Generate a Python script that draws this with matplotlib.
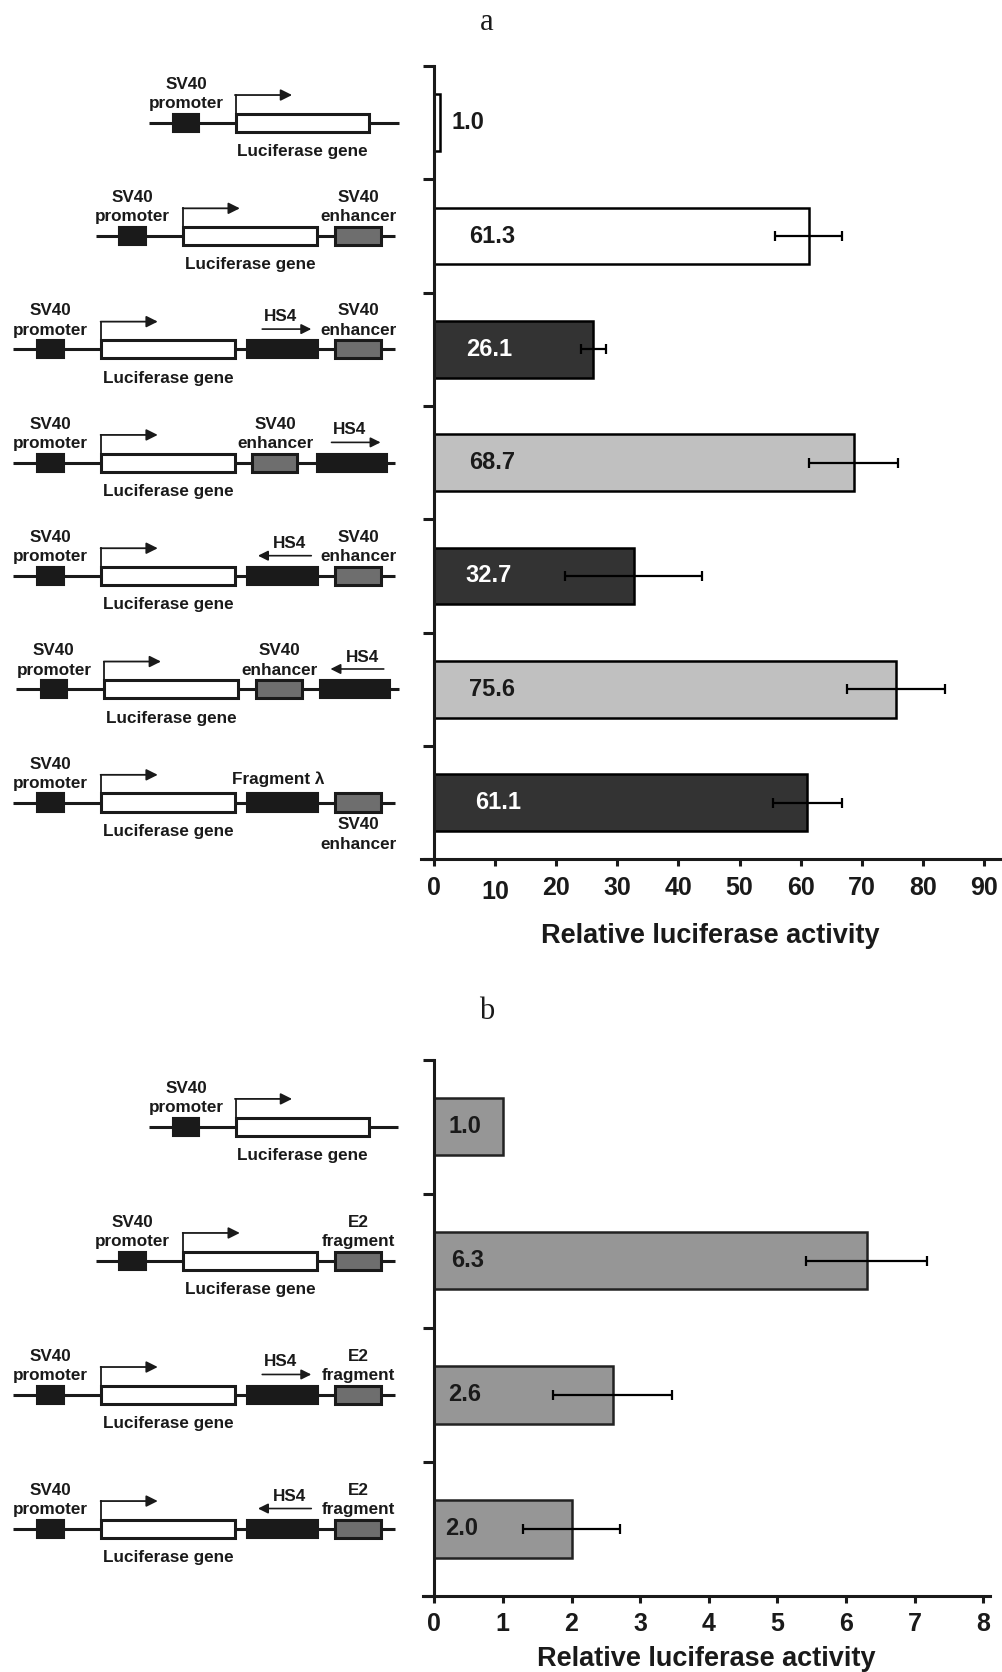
import numpy as np
import matplotlib
matplotlib.use('Agg')
import matplotlib.pyplot as plt
from matplotlib.patches import Rectangle
from matplotlib import font_manager

# data
values_a = [1.0, 61.3, 26.1, 68.7, 32.7, 75.6, 61.1]
errors_a = [0, 5.5, 2.1, 7.3, 11.2, 8.0, 5.7]
colors_a = ['white', 'white', '#333333', '#c0c0c0', '#333333', '#c0c0c0', '#333333']
textcol_a = ['#1a1a1a', '#1a1a1a', 'white', '#1a1a1a', 'white', '#1a1a1a', 'white']
ticks_a = list(range(0, 91, 10))

values_b = [1.0, 6.3, 2.6, 2.0]
errors_b = [0, 0.88, 0.87, 0.7]
ticks_b = list(range(0, 9))

xlabel = 'Relative luciferase activity'

# construct drawings (x in px of the left panel, 0..394)
rows_a = [
    dict(line=(140, 374), prom=162, luc=221, parts=[]),
    dict(line=(90, 371), prom=112, luc=172, parts=[('enh', 314, 'SV40', 'enhancer', 'up')]),
    dict(line=(12, 371), prom=35, luc=95, parts=[('hs4', 232, 1), ('enh', 314, 'SV40', 'enhancer', 'up')]),
    dict(line=(12, 371), prom=35, luc=95, parts=[('enh', 236, 'SV40', 'enhancer', 'up'), ('hs4', 297, 1)]),
    dict(line=(12, 371), prom=35, luc=95, parts=[('hs4', 232, -1), ('enh', 314, 'SV40', 'enhancer', 'up')]),
    dict(line=(15, 374), prom=38, luc=98, parts=[('enh', 240, 'SV40', 'enhancer', 'up'), ('hs4', 300, -1)]),
    dict(line=(12, 371), prom=35, luc=95, parts=[('frag', 232), ('enh', 314, 'SV40', 'enhancer', 'down')]),
]
rows_b = [
    dict(line=(140, 373), prom=162, luc=221, parts=[]),
    dict(line=(90, 371), prom=112, luc=172, parts=[('enh', 314, 'E2', 'fragment', 'up')]),
    dict(line=(12, 371), prom=35, luc=95, parts=[('hs4', 232, 1), ('enh', 314, 'E2', 'fragment', 'up')]),
    dict(line=(12, 371), prom=35, luc=95, parts=[('hs4', 232, -1), ('enh', 314, 'E2', 'fragment', 'up')]),
]

names = {f.name for f in font_manager.fontManager.ttflist}
narrow = 'Liberation Sans Narrow' if 'Liberation Sans Narrow' in names else 'Liberation Sans'
plt.rcParams['font.family'] = ['Liberation Sans', 'DejaVu Sans']
plt.rcParams['font.weight'] = 'bold'

W, H = 1003, 1672
fig = plt.figure(figsize=(W / 100, H / 100), dpi=100)
K = 1.066  # shown px -> full px

DARK = '#1a1a1a'
LBL = 12.3


def draw_row(ax, y, s, spec):
    t = lambda dy: y + dy * s  # pixel offset -> category units
    bh = 17 * s
    x0, x1 = spec['line']
    ax.plot([x0, x1], [y, y], color=DARK, lw=2.2, zorder=1, solid_capstyle='butt')
    # promoter
    p = spec['prom']
    ax.add_patch(Rectangle((p, y - bh / 2), 25, bh, facecolor=DARK, edgecolor=DARK, lw=1.5, zorder=2))
    ax.text(p + 12.5, t(-36), 'SV40', ha='center', va='center', fontsize=LBL, color=DARK)
    ax.text(p + 12.5, t(-18), 'promoter', ha='center', va='center', fontsize=LBL, color=DARK)
    # luciferase gene
    l = spec['luc']
    ax.add_patch(Rectangle((l, y - bh / 2), 125, bh, facecolor='white', edgecolor=DARK, lw=2.2, zorder=2))
    ax.plot([l, l], [y - bh / 2, t(-26)], color=DARK, lw=1.3, zorder=2)
    ax.annotate('', xy=(l + 53, t(-26)), xytext=(l - 0.6, t(-26)),
                arrowprops=dict(arrowstyle='-|>', color=DARK, lw=1.3, mutation_scale=17,
                                shrinkA=0, shrinkB=0))
    ax.text(l + 63, t(27), 'Luciferase gene', ha='center', va='center', fontsize=LBL, color=DARK)
    for part in spec['parts']:
        kind = part[0]
        if kind == 'enh':
            _, ex, l1, l2, where = part
            ax.add_patch(Rectangle((ex, y - bh / 2), 43, bh, facecolor='#6e6e6e', edgecolor=DARK, lw=2.2, zorder=2))
            if where == 'up':
                ax.text(ex + 22, t(-36), l1, ha='center', va='center', fontsize=LBL, color=DARK)
                ax.text(ex + 22, t(-18), l2, ha='center', va='center', fontsize=LBL, color=DARK)
            else:
                ax.text(ex + 22, t(21), l1, ha='center', va='center', fontsize=LBL, color=DARK)
                ax.text(ex + 22, t(39), l2, ha='center', va='center', fontsize=LBL, color=DARK)
        elif kind == 'hs4':
            _, hx, d = part
            ax.add_patch(Rectangle((hx, y - bh / 2), 66, bh, facecolor=DARK, edgecolor=DARK, lw=1.5, zorder=2))
            c = hx + 33
            if d > 0:
                ax.text(c - 2, t(-31), 'HS4', ha='center', va='center', fontsize=LBL, color=DARK)
                a0, a1 = c - 19, c + 27
            else:
                ax.text(c + 7, t(-30), 'HS4', ha='center', va='center', fontsize=LBL, color=DARK)
                a0, a1 = c + 27, c - 23
            ax.annotate('', xy=(a1, t(-19)), xytext=(a0, t(-19)),
                        arrowprops=dict(arrowstyle='-|>', color=DARK, lw=1.2, mutation_scale=15,
                                        shrinkA=0, shrinkB=0))
        elif kind == 'frag':
            _, fx = part
            ax.add_patch(Rectangle((fx, y - bh / 2), 66, bh, facecolor=DARK, edgecolor=DARK, lw=1.5, zorder=2))
            ax.text(fx + 29, t(-22), 'Fragment \u03bb', ha='center', va='center', fontsize=LBL, color=DARK)


def panel(top, bottom, x_left, x_right, xlim, values, errors, colors, tcols, ticks,
          rows, lab_x, title, title_y, bar_h, edge, labelpad):
    n = len(values)
    ppc = (bottom - top) / n  # shown px per category
    # bar axes (figure coords from shown px)
    ax = fig.add_axes([x_left * K / W, 1 - bottom * K / H,
                       (x_right - x_left) * K / W, (bottom - top) * K / H])
    y = np.arange(n)
    ax.barh(y, values, height=bar_h, color=colors, edgecolor=edge, lw=1.8, zorder=2)
    for i in range(n):
        if errors[i] > 0:
            ax.errorbar(values[i], y[i], xerr=errors[i], fmt='none', ecolor='black',
                        elinewidth=1.6, capsize=3.5, capthick=1.6, zorder=3)
        ax.text(lab_x[i], y[i], f'{values[i]:.1f}', ha='center', va='center',
                fontsize=17, color=tcols[i], family=narrow, zorder=4)
    ax.set_ylim(n - 0.5, -0.5)
    ax.set_xlim(*xlim)
    ax.set_yticks(np.arange(-0.5, n, 1))
    ax.set_yticklabels([])
    ax.set_xticks(ticks)
    ax.set_xticklabels([str(v) for v in ticks], fontsize=18, family=narrow, color=DARK)
    ax.spines['top'].set_visible(False)
    ax.spines['right'].set_visible(False)
    ax.spines['left'].set_position(('data', 0))
    for sp in ('left', 'bottom'):
        ax.spines[sp].set_linewidth(2.2)
        ax.spines[sp].set_color(DARK)
    ax.tick_params(axis='y', length=8, width=2.2, color=DARK)
    ax.tick_params(axis='x', length=5, width=2.2, color=DARK, pad=7)
    ax.set_xlabel(xlabel, fontsize=19.5, fontweight='bold', color=DARK, labelpad=labelpad)
    # diagram axes
    dx = fig.add_axes([0, 1 - bottom * K / H, 394 * K / W, (bottom - top) * K / H])
    dx.set_xlim(0, 394)
    dx.set_ylim(n - 0.5, -0.5)
    dx.axis('off')
    s = 1 / ppc
    for i, spec in enumerate(rows):
        draw_row(dx, i, s, spec)
    fig.text(457 * K / W, 1 - title_y * K / H, title, ha='center', va='center',
             fontsize=22, family='Liberation Serif', fontweight='normal', color=DARK)
    return ax


lab_a = [5.5, 9.5, 9.0, 9.5, 9.0, 9.5, 10.5]
ax_a = panel(62, 806, 395, 938, (-2.1, 92.6), values_a, errors_a, colors_a, textcol_a,
             ticks_a, rows_a, lab_a, 'a', 21, 0.5, 'black', 14)
# the "10" label in the original sits slightly lower
ax_a.xaxis.get_major_ticks()[1].set_pad(10)

lab_b = [0.45, 0.48, 0.45, 0.4]
panel(994, 1497, 397, 929, (-0.16, 8.1), values_b, errors_b, ['#969696'] * 4, [DARK] * 4,
      ticks_b, rows_b, lab_b, 'b', 949, 0.43, '#222222', 7)

fig.savefig('out.png', dpi=100)
